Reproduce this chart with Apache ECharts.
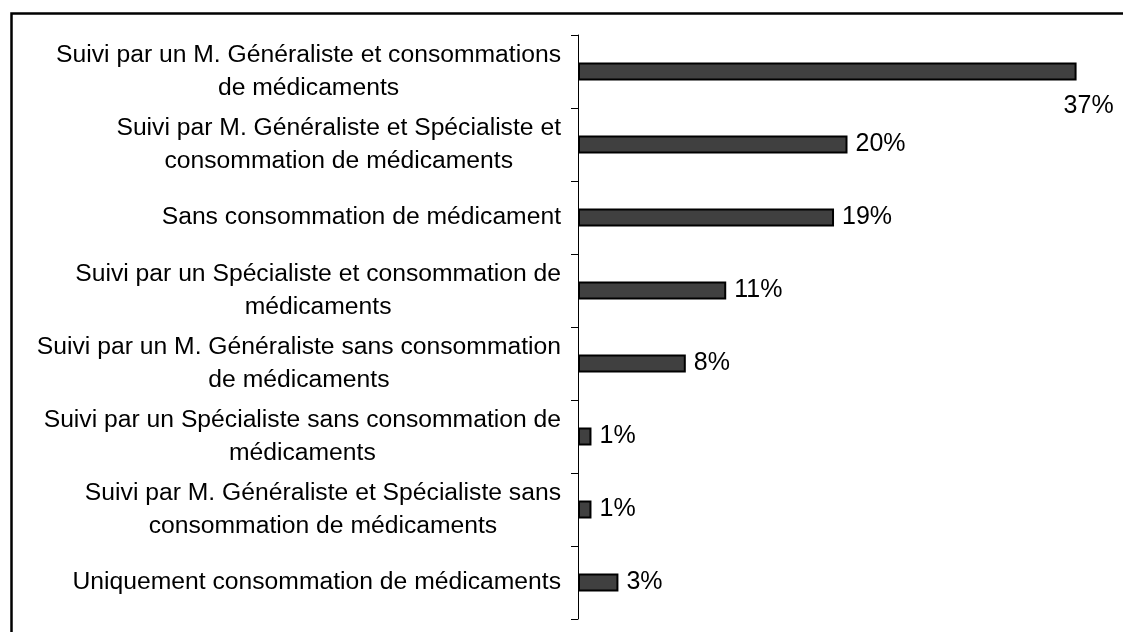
<!DOCTYPE html>
<html>
<head>
<meta charset="utf-8">
<script src="https://cdn.jsdelivr.net/npm/echarts@6/dist/echarts.min.js"></script>
<style>
  html, body { margin: 0; padding: 0; background: #fff; }
  #chart { width: 1123px; height: 632px; }
</style>
</head>
<body>
<div id="chart"></div>
<script>
  // categories top to bottom
  var categories = [
    'Suivi par un M. Généraliste et consommations\nde médicaments',
    'Suivi par M. Généraliste et Spécialiste et\nconsommation de médicaments',
    'Sans consommation de médicament',
    'Suivi par un Spécialiste et consommation de\nmédicaments',
    'Suivi par un M. Généraliste sans consommation\nde médicaments',
    'Suivi par un Spécialiste sans consommation de\nmédicaments',
    'Suivi par M. Généraliste et Spécialiste sans\nconsommation de médicaments',
    'Uniquement consommation de médicaments'
  ];
  var values = [37, 20, 19, 11, 8, 1, 1, 3];

  var font = '"Liberation Sans", Arial, sans-serif';

  var myChart = echarts.init(document.getElementById('chart'));

  var seriesData = values.map(function (v, i) {
    var item = { value: v };
    if (i === 0) {
      // the longest bar has its label pushed under the end of the bar
      item.label = { offset: [-21, 35] };
    }
    return item;
  });

  var option = {
    animation: false,
    backgroundColor: '#fff',
    graphic: [{
      type: 'rect',
      shape: { x: 11.5, y: 13.5, width: 2000, height: 2000 },
      style: { fill: 'none', stroke: '#000', lineWidth: 2.5 },
      silent: true
    }],
    grid: { left: 578, right: 6, top: 35, bottom: 13 },
    xAxis: {
      type: 'value',
      min: 0,
      max: 40,
      show: false
    },
    yAxis: {
      type: 'category',
      inverse: true,
      data: categories,
      axisLine: { show: true, lineStyle: { color: '#000', width: 1 } },
      axisTick: { show: true, length: 7, lineStyle: { color: '#000' } },
      axisLabel: {
        interval: 0,
        margin: 17,
        formatter: function (v) {
          return v.split('\n').map(function (s) { return '{c|' + s + '}'; }).join('\n');
        },
        rich: {
          c: { align: 'center', fontSize: 24.7, lineHeight: 33, color: '#000', fontFamily: font }
        }
      },
      splitLine: { show: false }
    },
    series: [{
      type: 'bar',
      data: seriesData,
      barWidth: 18,
      itemStyle: { color: '#404040', borderColor: '#000', borderWidth: 2 },
      label: {
        show: true,
        position: 'right',
        distance: 8,
        formatter: '{c}%',
        color: '#000',
        fontSize: 25,
        fontFamily: font
      }
    }]
  };

  myChart.setOption(option, true);
</script>
</body>
</html>
